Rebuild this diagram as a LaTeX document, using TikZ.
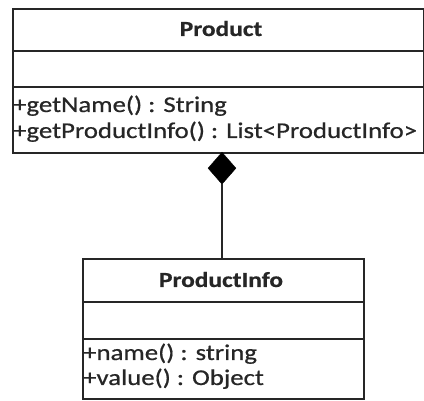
\documentclass[tikz,border=0pt]{standalone}
\usepackage{fontspec}
\setmainfont{Carlito}
\newfontfamily\umlfont[FakeStretch=1.18,FakeBold=0.6]{Carlito}
\newfontfamily\memberfont[FakeStretch=1.19,FakeBold=0.7]{Carlito}
\usetikzlibrary{shapes.geometric}
\begin{document}
\begin{tikzpicture}[x=1pt,y=-1pt,
  frame/.style={draw=black!85,line width=1.6pt},
  sep/.style={draw=black!85,line width=1.4pt},
  title/.style={font=\umlfont\fontsize{21.5}{24}\selectfont\bfseries,text=black!85,inner sep=0pt,anchor=base},
  member/.style={font=\memberfont\fontsize{22.5}{25}\selectfont,text=black!85,inner sep=0pt,anchor=base west},
  compose/.style={diamond,fill=black,draw=black,inner sep=0pt,minimum width=28pt,minimum height=32pt}]
\useasboundingbox (0,0) rectangle (424,401);
% Product class
\node[frame,rectangle,minimum width=411pt,minimum height=144pt,anchor=north west,inner sep=0pt] (product) at (12,8) {};
\draw[sep] (12,51) -- (423,51);
\draw[sep] (12,87) -- (423,87);
\node[title] (ptitle) at (221,36) {Product};
\node[member] (m1) at (13,112) {+getName() : String};
\node[member] (m2) at (13,138) {+getProductInfo() : List<ProductInfo>};
% ProductInfo class
\node[frame,rectangle,minimum width=281pt,minimum height=140pt,anchor=north west,inner sep=0pt] (info) at (82,258) {};
\draw[sep] (82,302) -- (363,302);
\draw[sep] (82,339) -- (363,339);
\node[title] (ititle) at (221,287) {ProductInfo};
\node[member] (n1) at (83,360) {+name() : string};
\node[member] (n2) at (83,385) {+value() : Object};
% composition link
\node[compose,anchor=north] (dia) at (222,152) {};
\draw[draw=black!85,line width=1.4pt] (dia.south) -- (dia.south |- info.north);
\end{tikzpicture}
\end{document}
